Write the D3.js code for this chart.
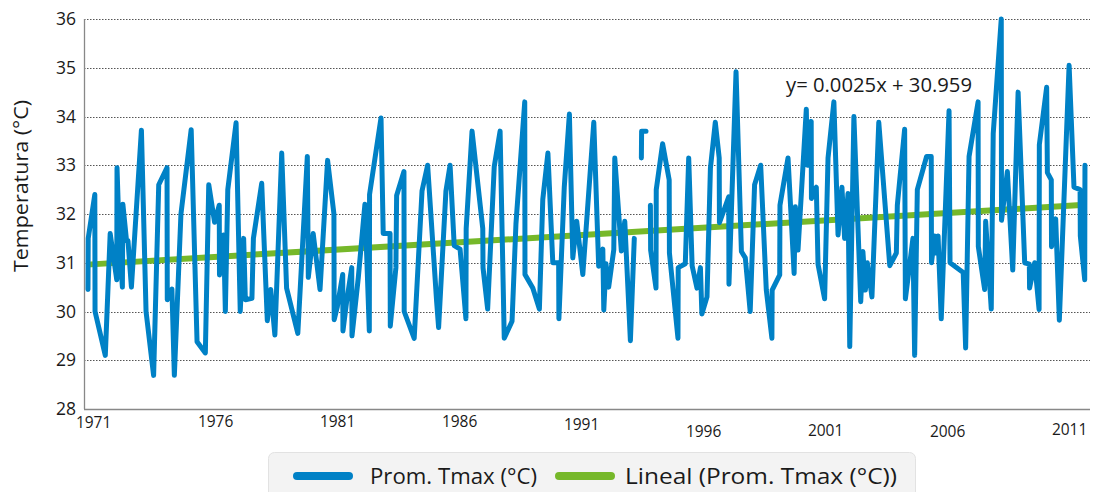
<!DOCTYPE html>
<html>
<head>
<meta charset="utf-8">
<script src="https://cdn.jsdelivr.net/npm/d3@7"></script>
<style>
  html, body { margin: 0; padding: 0; background: #ffffff; }
  svg { display: block; font-family: "Open Sans", "Lato", sans-serif; }
</style>
</head>
<body>
<svg id="chart" width="1099" height="492"></svg>
<script>
// ---- Data ----
const tmaxYears = [
  1971.04,1971.05,1971.32,1971.33,1971.75,1971.95,1972.22,1972.23,1972.33,1972.45,
  1972.47,1972.62,1972.68,1972.82,1973.23,1973.42,1973.73,1973.94,1974.28,1974.29,
  1974.48,1974.58,1974.85,1975.27,1975.51,1975.85,1975.99,1976.23,1976.42,1976.43,
  1976.60,1976.67,1976.77,1977.11,1977.28,1977.42,1977.49,1977.76,1977.82,1978.16,
  1978.39,1978.53,1978.70,1978.98,1979.18,1979.64,1980.03,1980.07,1980.27,1980.55,
  1980.86,1981.12,1981.13,1981.26,1981.48,1981.49,1981.64,1981.85,1981.86,1982.12,
  1982.39,1982.57,1982.58,1983.05,1983.14,1983.42,1983.43,1983.66,1983.69,1983.99,
  1984.00,1984.41,1984.73,1984.96,1985.33,1985.41,1985.71,1985.88,1986.05,1986.29,
  1986.53,1986.54,1986.78,1987.22,1987.23,1987.42,1987.69,1987.93,1988.10,1988.42,
  1988.58,1988.94,1988.95,1989.27,1989.54,1989.68,1989.89,1990.09,1990.33,1990.34,
  1990.56,1990.77,1990.91,1991.07,1991.32,1991.77,1991.97,1992.14,1992.18,1992.27,
  1992.38,1992.59,1992.63,1992.90,1993.04,1993.27,1993.43,1993.58,1993.72,1993.73,
  1993.91,1994.00,1994.09,1994.10,1994.32,1994.33,1994.59,1994.86,1994.87,1995.22,
  1995.23,1995.52,1995.66,1995.80,1996.00,1996.14,1996.20,1996.41,1996.55,1996.75,
  1996.91,1996.92,1997.30,1997.31,1997.60,1997.82,1997.98,1998.18,1998.36,1998.61,
  1998.84,1999.07,1999.08,1999.39,1999.40,1999.73,1999.98,2000.03,2000.14,2000.48,
  2000.52,2000.68,2000.69,2000.89,2000.96,2001.23,2001.37,2001.61,2001.78,2001.94,
  2002.05,2002.19,2002.26,2002.43,2002.71,2002.80,2002.90,2002.98,2003.17,2003.45,
  2003.90,2004.17,2004.21,2004.51,2004.54,2004.85,2004.92,2005.03,2005.41,2005.60,
  2005.61,2005.74,2005.78,2005.88,2006.01,2006.33,2006.37,2006.91,2007.01,2007.15,
  2007.52,2007.53,2007.79,2007.83,2008.06,2008.14,2008.47,2008.48,2008.72,2008.94,
  2009.16,2009.43,2009.62,2009.63,2009.84,2010.02,2010.03,2010.33,2010.36,2010.52,
  2010.53,2010.70,2010.85,2011.25,2011.45,2011.70,2011.71,2011.89,2011.90
];
const tmaxValues = [
  30.45,31.5,32.4,30.0,29.1,31.6,30.65,32.95,31.4,30.5,
  32.2,31.45,31.45,30.5,33.72,30.0,28.69,32.6,32.95,30.24,
  30.46,28.69,32.0,33.73,29.38,29.15,32.6,31.83,32.18,30.75,
  31.57,30.0,32.5,33.87,30.0,31.5,30.24,30.27,31.5,32.63,
  29.81,30.45,29.52,33.25,30.48,29.55,33.18,30.7,31.6,30.45,
  33.1,32.0,29.83,30.1,30.76,29.6,30.2,30.9,29.5,30.7,
  32.2,29.6,32.4,33.97,31.6,31.6,29.7,30.9,32.38,32.87,
  30.0,29.45,32.47,33.0,30.2,29.67,32.47,33.0,31.35,31.28,
  29.85,31.7,33.7,31.7,30.9,30.05,32.97,33.7,29.45,29.8,
  31.8,34.3,30.76,30.48,30.05,32.3,33.25,31.0,31.0,29.85,
  32.55,34.05,31.1,31.85,30.76,33.88,30.93,31.28,30.03,30.98,
  30.5,31.27,33.15,31.24,31.85,29.4,31.5,null,33.15,33.7,
  33.7,null,32.18,31.26,30.48,32.5,33.44,32.7,31.2,29.45,
  30.9,30.98,33.15,30.94,30.48,30.9,29.95,30.3,32.94,33.88,
  33.15,31.82,32.35,30.56,34.92,31.23,31.1,30.0,32.6,33.0,
  30.44,29.45,30.44,30.75,32.18,33.15,30.78,32.15,31.26,34.15,
  33.0,33.9,32.32,32.55,30.97,30.26,33.15,34.3,31.57,32.55,
  31.5,32.42,29.28,34.0,30.2,31.23,30.44,31.0,30.3,33.88,
  30.94,31.2,32.18,33.74,30.26,31.5,29.1,32.5,33.18,33.18,
  31.0,31.55,31.2,31.55,29.85,34.12,31.0,30.8,29.25,33.18,
  34.3,31.33,30.45,31.85,30.05,33.65,36.0,31.87,32.87,30.85,
  34.5,31.0,30.97,30.48,31.0,30.04,33.42,34.6,32.85,32.7,
  31.33,31.9,29.82,35.05,32.55,32.5,31.55,30.65,33.0
];
// Linear trend shown on the chart: y = 0.0025x + 30.959 (x = month number)
const trendSlope = 0.0025;
const trendIntercept = 30.959;
const trendSpan = [1971.0, 2011.9];

const yTicks = [28, 29, 30, 31, 32, 33, 34, 35, 36];
const xTickYears = [1971, 1976, 1981, 1986, 1991, 1996, 2001, 2006, 2011];
const xTickLabels = ["1971", "1976", "1981", "1986", "1991", "1996", "2001", "2006", "2011"];
const seriesNames = ["Prom. Tmax (°C)", "Lineal (Prom. Tmax (°C))"];
const yTitle = "Temperatura (°C)";
const equationText = "y= 0.0025x + 30.959";

// ---- Layout / style ----
const BLUE = "#0081c6";
const GREEN = "#76b82a";
const plot = { left: 84, right: 1090, top: 19, bottom: 409 };
const xLabelDy = [0, -1, -1, -1, 2, 9, 8, 9, 7]; // staggered label heights as in the reference

const svg = d3.select("#chart");
const x = d3.scaleLinear().domain([1971, 2012]).range([87, 1087.4]);
const y = d3.scaleLinear().domain([28, 36]).range([plot.bottom, plot.top]);

// Gridlines (dotted)
svg.append("g").selectAll("line")
  .data(yTicks.filter(t => t > 28))
  .join("line")
  .attr("x1", plot.left).attr("x2", plot.right)
  .attr("y1", d => Math.round(y(d)) + 0.5).attr("y2", d => Math.round(y(d)) + 0.5)
  .attr("stroke", "#555").attr("stroke-width", 1).attr("stroke-dasharray", "1.5,1.5");

// Axis lines
svg.append("line").attr("x1", plot.left + 0.5).attr("x2", plot.left + 0.5)
  .attr("y1", plot.top).attr("y2", plot.bottom).attr("stroke", "#888").attr("stroke-width", 1.3);
svg.append("line").attr("x1", plot.left).attr("x2", plot.right)
  .attr("y1", plot.bottom + 0.5).attr("y2", plot.bottom + 0.5).attr("stroke", "#888").attr("stroke-width", 1.3);

// Y axis labels
const yAxis = d3.axisLeft(y).tickValues(yTicks).tickSize(0).tickPadding(8).tickFormat(d3.format("d"));
const gy = svg.append("g").attr("transform", `translate(${plot.left},0)`).call(yAxis);
gy.select(".domain").remove();
gy.selectAll("text").attr("font-size", 17.5).attr("fill", "#1a1a1a")
  .attr("font-family", "'Open Sans', sans-serif");

// X axis labels
const xAxis = d3.axisBottom(x).tickValues(xTickYears.map(v => v + 0.25)).tickSize(0).tickPadding(8)
  .tickFormat((d, i) => xTickLabels[i]);
const gx = svg.append("g").attr("transform", `translate(0,${plot.bottom})`).call(xAxis);
gx.select(".domain").remove();
gx.selectAll("text").attr("font-size", 15.5).attr("fill", "#1a1a1a")
  .attr("font-family", "'Open Sans', sans-serif")
  .attr("transform", (d, i) => `translate(0,${xLabelDy[i]})`);

// Y title
svg.append("text")
  .attr("transform", `translate(28,${(plot.top + plot.bottom) / 2 - 28}) rotate(-90)`)
  .attr("text-anchor", "middle").attr("font-size", 20).attr("fill", "#1a1a1a")
  .attr("textLength", 172).attr("lengthAdjust", "spacingAndGlyphs")
  .text(yTitle);

// Data series
const pts = tmaxYears.map((t, i) => ({ t, v: tmaxValues[i] }));
const line = d3.line().defined(d => d.v !== null).x(d => x(d.t)).y(d => y(d.v));

// Trend line
const monthOf = t => (t - 1971) * 12 + 1;
const trendPts = trendSpan.map(t => ({ t, v: trendSlope * monthOf(t) + trendIntercept }));
svg.append("path").datum(trendPts).attr("d", line)
  .attr("fill", "none").attr("stroke", GREEN).attr("stroke-width", 6);

svg.append("path").datum(pts).attr("d", line)
  .attr("fill", "none").attr("stroke", BLUE).attr("stroke-width", 5)
  .attr("stroke-linejoin", "round").attr("stroke-linecap", "round");

// Equation
svg.append("text").attr("x", 786).attr("y", 92).attr("font-size", 19.5).attr("fill", "#1a1a1a")
  .attr("textLength", 186).attr("lengthAdjust", "spacingAndGlyphs")
  .text(equationText);

// Legend
const lg = svg.append("g");
lg.append("rect").attr("x", 268.5).attr("y", 452.5).attr("width", 647).attr("height", 50)
  .attr("rx", 6).attr("fill", "#f3f3f3").attr("stroke", "#e2e2e2");
const legendItems = [
  { name: seriesNames[0], color: BLUE, x0: 297, tx: 370, w: 167 },
  { name: seriesNames[1], color: GREEN, x0: 559, tx: 625, w: 272 }
];
legendItems.forEach(it => {
  lg.append("line").attr("x1", it.x0).attr("x2", it.x0 + 52).attr("y1", 476).attr("y2", 476)
    .attr("stroke", it.color).attr("stroke-width", 8).attr("stroke-linecap", "round");
  lg.append("text").attr("x", it.tx).attr("y", 484).attr("font-size", 21).attr("fill", "#1a1a1a")
    .attr("textLength", it.w).attr("lengthAdjust", "spacingAndGlyphs")
    .text(it.name);
});
</script>
</body>
</html>
